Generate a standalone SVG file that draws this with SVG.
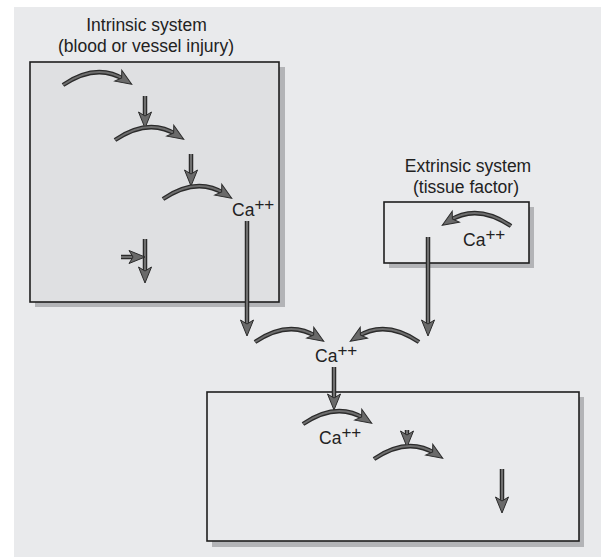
<svg xmlns="http://www.w3.org/2000/svg" xmlns:xlink="http://www.w3.org/1999/xlink" width="603" height="557" viewBox="0 0 603 557">
<style>
.t{font-family:"Liberation Sans",Arial,sans-serif;font-size:17.5px;fill:#222}
.sup{font-size:17px}
.box{stroke:#1e1e1e;stroke-width:1.6}
.sh{fill:#b3b4b7}
.o use{fill:none;stroke:#2b2b2b;stroke-width:4.5}
.i use{fill:none;stroke:#6e6e6e;stroke-width:2;marker-end:url(#ah)}
</style>
<defs>
<marker id="ah" markerUnits="userSpaceOnUse" markerWidth="20" markerHeight="16" refX="7.5" refY="6.5" orient="auto" overflow="visible">
<path d="M-0.5,0 L15.5,6.5 L-0.5,13 L3.5,6.5 Z" fill="#6a6a6a" stroke="#2b2b2b" stroke-width="1"/>
</marker>
<path id="a1" d="M63,85 q34,-23 62,-5"/>
<path id="a2" d="M145,96 V120"/>
<path id="a3" d="M115,140 q34,-23 62,-5"/>
<path id="a4" d="M191,154 V178"/>
<path id="a5" d="M163,199 q34,-23 62,-5"/>
<path id="a6" d="M247,221 V328"/>
<path id="a7" d="M145,239 V275"/>
<path id="a8" d="M121,257 H137"/>
<path id="a9" d="M511,226 q-34,-23 -62,-5"/>
<path id="a10" d="M428,237 V328"/>
<path id="a11" d="M255,342 q34,-23 62,-5"/>
<path id="a12" d="M419,342 q-34,-23 -62,-5"/>
<path id="a13" d="M334,367 V402"/>
<path id="a14" d="M303,424 q34,-23 62,-5"/>
<path id="a15" d="M407,430 V439"/>
<path id="a16" d="M374,459 q34,-23 62,-5"/>
<path id="a17" d="M502,469 V505"/>
</defs>
<rect x="0" y="0" width="603" height="557" fill="#ffffff"/>
<rect x="14" y="7" width="587" height="550" fill="#e9eaec"/>

<g id="intrinsic">
<rect class="sh" x="35" y="67" width="250" height="240"/>
<rect class="box" x="30" y="62" width="249" height="240" fill="#dfe0e2"/>
<text class="t" x="146.5" y="30.5" text-anchor="middle">Intrinsic system</text>
<text class="t" x="146" y="51.5" text-anchor="middle">(blood or vessel injury)</text>
<text class="t" x="232" y="216">Ca<tspan class="sup" dy="-6">++</tspan></text>
</g>

<g id="extrinsic">
<rect class="sh" x="389" y="207" width="145" height="61"/>
<rect class="box" x="384" y="202" width="145" height="61" fill="#e9eaec"/>
<text class="t" x="468" y="172" text-anchor="middle">Extrinsic system</text>
<text class="t" x="466" y="193" text-anchor="middle">(tissue factor)</text>
<text class="t" x="463" y="246">Ca<tspan class="sup" dy="-6">++</tspan></text>
</g>

<g id="junction">
<text class="t" x="315" y="362">Ca<tspan class="sup" dy="-6">++</tspan></text>
</g>

<g id="common">
<rect class="sh" x="212" y="397" width="372" height="150"/>
<rect class="box" x="207" y="392" width="372" height="149" fill="#e9eaec"/>
<text class="t" x="319" y="444">Ca<tspan class="sup" dy="-6">++</tspan></text>
</g>

<g id="connectors">
<g class="o">
<use xlink:href="#a1"/><use xlink:href="#a2"/><use xlink:href="#a3"/><use xlink:href="#a4"/><use xlink:href="#a5"/><use xlink:href="#a6"/><use xlink:href="#a7"/><use xlink:href="#a8"/><use xlink:href="#a9"/><use xlink:href="#a10"/><use xlink:href="#a11"/><use xlink:href="#a12"/><use xlink:href="#a13"/><use xlink:href="#a14"/><use xlink:href="#a15"/><use xlink:href="#a16"/><use xlink:href="#a17"/>
</g>
<g class="i">
<use xlink:href="#a1"/><use xlink:href="#a2"/><use xlink:href="#a3"/><use xlink:href="#a4"/><use xlink:href="#a5"/><use xlink:href="#a6"/><use xlink:href="#a7"/><use xlink:href="#a8"/><use xlink:href="#a9"/><use xlink:href="#a10"/><use xlink:href="#a11"/><use xlink:href="#a12"/><use xlink:href="#a13"/><use xlink:href="#a14"/><use xlink:href="#a15"/><use xlink:href="#a16"/><use xlink:href="#a17"/>
</g>
</g>
</svg>
